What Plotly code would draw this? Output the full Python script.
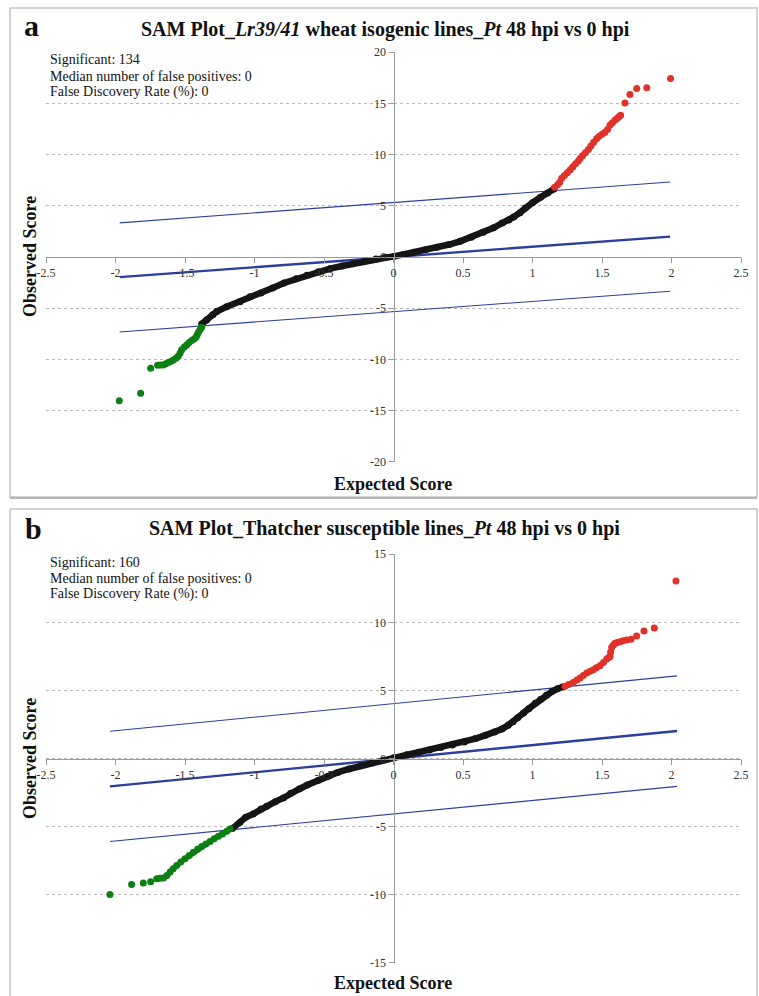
import plotly.graph_objects as go

W, H = 759, 996

# ---------------- Panel a data ----------------
a_black_x = [-1.38, -1.344, -1.30, -1.272, -1.20, -1.104, -1.032, -0.953, -0.87, -0.788, -0.70, -0.623, -0.54,
             -0.457, -0.37, -0.292, -0.21, -0.127, -0.06, 0.0, 0.07, 0.149, 0.23, 0.314, 0.40, 0.479, 0.56,
             0.645, 0.72, 0.782, 0.83, 0.865, 0.91, 0.948, 1.0, 1.058, 1.11, 1.154]
a_black_y = [-6.55, -6.15, -5.65, -5.33, -4.85, -4.36, -3.87, -3.52, -3.02, -2.54, -2.13, -1.79, -1.45,
             -1.14, -0.88, -0.65, -0.42, -0.20, -0.03, 0.06, 0.25, 0.46, 0.70, 0.94, 1.22, 1.53, 1.92,
             2.41, 2.85, 3.32, 3.62, 3.91, 4.33, 4.79, 5.30, 5.83, 6.25, 6.64]
a_red_x = [1.16, 1.18, 1.196, 1.21, 1.23, 1.25, 1.27, 1.29, 1.31, 1.33, 1.342, 1.36, 1.38, 1.402, 1.42, 1.44,
           1.462, 1.48, 1.50, 1.52, 1.54, 1.558, 1.575, 1.594, 1.61, 1.622, 1.634]
a_red_y = [6.80, 7.05, 7.30, 7.68, 7.95, 8.22, 8.49, 8.80, 9.10, 9.38, 9.63, 9.90, 10.18, 10.51, 10.85, 11.20,
           11.58, 11.80, 11.98, 12.15, 12.45, 12.88, 13.10, 13.37, 13.55, 13.70, 13.85]
a_red_out_x = [1.665, 1.701, 1.750, 1.822, 1.993]
a_red_out_y = [15.05, 15.87, 16.46, 16.52, 17.43]
a_green_x = [-1.38, -1.392, -1.404, -1.412, -1.421, -1.435, -1.452, -1.47, -1.488, -1.505, -1.524, -1.535,
             -1.548, -1.565, -1.584, -1.600, -1.620, -1.638, -1.656, -1.676, -1.697]
a_green_y = [-6.86, -7.10, -7.38, -7.60, -7.84, -8.00, -8.16, -8.36, -8.59, -8.80, -9.07, -9.38,
             -9.66, -9.88, -10.05, -10.18, -10.31, -10.42, -10.54, -10.55, -10.57]
a_green_out_x = [-1.747, -1.819, -1.973]
a_green_out_y = [-10.87, -13.30, -14.05]
a_line_x = [-1.97, 1.99]
a_upper_y = [3.33, 7.33]
a_center_y = [-1.97, 1.99]
a_lower_y = [-7.32, -3.34]

# ---------------- Panel b data ----------------
b_black_x = [-1.16, -1.104, -1.063, -1.009, -0.953, -0.912, -0.85, -0.793, -0.74, -0.678, -0.62, -0.54, -0.47,
             -0.402, -0.32, -0.237, -0.15, -0.072, 0.0, 0.094, 0.18, 0.259, 0.34, 0.424, 0.51, 0.59, 0.66,
             0.727, 0.78, 0.824, 0.86, 0.893, 0.935, 0.975, 1.02, 1.058, 1.10, 1.14, 1.18, 1.22]
b_black_y = [-5.15, -4.68, -4.32, -4.07, -3.71, -3.51, -3.17, -2.90, -2.55, -2.24, -1.95, -1.59, -1.30,
             -1.02, -0.77, -0.54, -0.32, -0.12, 0.05, 0.27, 0.46, 0.63, 0.80, 1.00, 1.22, 1.46, 1.70,
             1.95, 2.17, 2.44, 2.70, 3.00, 3.34, 3.68, 4.05, 4.34, 4.64, 4.92, 5.12, 5.27]
b_red_x = [1.234, 1.26, 1.294, 1.32, 1.342, 1.365, 1.390, 1.415, 1.438, 1.46, 1.486, 1.51, 1.534, 1.548,
           1.558, 1.562, 1.570, 1.582, 1.594, 1.61, 1.629, 1.65, 1.677, 1.709]
b_red_y = [5.30, 5.43, 5.59, 5.76, 5.91, 6.09, 6.28, 6.40, 6.52, 6.66, 6.81, 7.05, 7.30, 7.42,
           7.49, 7.80, 8.17, 8.33, 8.46, 8.52, 8.58, 8.64, 8.71, 8.76]
b_red_out_x = [1.749, 1.802, 1.876, 2.032]
b_red_out_y = [9.0, 9.36, 9.58, 13.04]
b_green_x = [-1.176, -1.20, -1.23, -1.26, -1.29, -1.32, -1.35, -1.38, -1.41, -1.44, -1.47, -1.50, -1.53,
             -1.56, -1.585, -1.607, -1.63, -1.655, -1.68, -1.703]
b_green_y = [-5.17, -5.35, -5.54, -5.71, -5.90, -6.10, -6.28, -6.47, -6.67, -6.88, -7.12, -7.37, -7.60,
             -7.86, -8.10, -8.34, -8.60, -8.78, -8.80, -8.83]
b_green_out_x = [-1.747, -1.800, -1.884, -2.040]
b_green_out_y = [-9.05, -9.15, -9.25, -9.98]
b_line_x = [-2.04, 2.04]
b_upper_y = [2.00, 6.07]
b_center_y = [-2.05, 2.02]
b_lower_y = [-6.10, -2.05]

x_ticks = [-2.5, -2, -1.5, -1, -0.5, 0, 0.5, 1, 1.5, 2, 2.5]
x_tick_text = ["-2.5", "-2", "-1.5", "-1", "-0.5", "0", "0.5", "1", "1.5", "2", "2.5"]
a_y_ticks = [-20, -15, -10, -5, 0, 5, 10, 15, 20]
b_y_ticks = [-15, -10, -5, 0, 5, 10, 15]

titles = ["SAM Plot_<i>Lr39/41</i> wheat isogenic lines_<i>Pt</i> 48 hpi vs 0 hpi",
          "SAM Plot_Thatcher susceptible lines_<i>Pt</i> 48 hpi vs 0 hpi"]
info_a = ["Significant: 134", "Median number of false positives: 0", "False Discovery Rate (%): 0"]
info_b = ["Significant: 160", "Median number of false positives: 0", "False Discovery Rate (%): 0"]

BLACK = "#151515"
RED = "#e0322a"
GREEN = "#0b7f12"
NAVY = "#2b3f9c"
SERIF = "Liberation Serif"

fig = go.Figure()


def add_panel(xa, ya, bx, by, rx, ry, rox, roy, gx, gy, gox, goy, lx, up, ce, lo):
    kw = dict(xaxis=xa, yaxis=ya, hoverinfo="skip", showlegend=False, cliponaxis=False)
    fig.add_trace(go.Scatter(x=lx, y=up, mode="lines", line=dict(color=NAVY, width=1.1), **kw))
    fig.add_trace(go.Scatter(x=lx, y=lo, mode="lines", line=dict(color=NAVY, width=1.1), **kw))
    fig.add_trace(go.Scatter(x=lx, y=ce, mode="lines", line=dict(color=NAVY, width=2.4), **kw))
    fig.add_trace(go.Scatter(x=bx, y=by, mode="lines+markers", line=dict(color=BLACK, width=6.5),
                             marker=dict(color=BLACK, size=7), **kw))
    fig.add_trace(go.Scatter(x=rx, y=ry, mode="lines+markers", line=dict(color=RED, width=5),
                             marker=dict(color=RED, size=7), **kw))
    fig.add_trace(go.Scatter(x=rox, y=roy, mode="markers", marker=dict(color=RED, size=7), **kw))
    fig.add_trace(go.Scatter(x=gx, y=gy, mode="lines+markers", line=dict(color=GREEN, width=5),
                             marker=dict(color=GREEN, size=7), **kw))
    fig.add_trace(go.Scatter(x=gox, y=goy, mode="markers", marker=dict(color=GREEN, size=7), **kw))


add_panel("x", "y", a_black_x, a_black_y, a_red_x, a_red_y, a_red_out_x, a_red_out_y,
          a_green_x, a_green_y, a_green_out_x, a_green_out_y, a_line_x, a_upper_y, a_center_y, a_lower_y)
add_panel("x2", "y2", b_black_x, b_black_y, b_red_x, b_red_y, b_red_out_x, b_red_out_y,
          b_green_x, b_green_y, b_green_out_x, b_green_out_y, b_line_x, b_upper_y, b_center_y, b_lower_y)


def fx(p):
    return p / W


def fy(p):
    return 1 - p / H


xdom = [fx(46), fx(741)]
a_ydom = [fy(462), fy(52)]
b_ydom = [fy(963), fy(554)]

tickfont = dict(family=SERIF, size=12, color="#333333")
axis_common = dict(showline=True, linecolor="#9a9a9a", linewidth=1, ticks="outside", ticklen=5,
                   tickcolor="#9a9a9a", tickfont=tickfont, zeroline=False, fixedrange=True,
                   automargin=False)


def xaxis_cfg(ydom):
    return dict(domain=xdom, range=[-2.5, 2.5], anchor="free", position=(ydom[0] + ydom[1]) / 2,
                tickvals=x_ticks, ticktext=x_tick_text, showgrid=False, **axis_common)


def yaxis_cfg(ydom, rng, ticks):
    return dict(domain=ydom, range=rng, anchor="free", position=(xdom[0] + xdom[1]) / 2,
                tickvals=ticks, ticktext=[str(t) for t in ticks], showgrid=True, gridcolor="#b8b8b8",
                griddash="dot", gridwidth=1, **axis_common)


fig.update_layout(
    width=W, height=H, autosize=False,
    margin=dict(l=0, r=0, t=0, b=0, pad=0, autoexpand=False),
    paper_bgcolor="white", plot_bgcolor="white", showlegend=False,
    xaxis=xaxis_cfg(a_ydom), yaxis=yaxis_cfg(a_ydom, [-20.02, 20.02], a_y_ticks),
    xaxis2=xaxis_cfg(b_ydom), yaxis2=yaxis_cfg(b_ydom, [-15.02, 15.02], b_y_ticks),
)

ann = []


def text(x, y, s, size, bold=False, xanchor="center", angle=0, color="#111111"):
    ann.append(dict(x=fx(x), y=fy(y), xref="paper", yref="paper", text=("<b>%s</b>" % s) if bold else s,
                    showarrow=False, xanchor=xanchor, yanchor="middle", textangle=angle,
                    font=dict(family=SERIF, size=size, color=color)))


# panel a
text(31, 26, "a", 30, bold=True)
text(385, 29, titles[0], 20, bold=True)
for i, s in enumerate(info_a):
    text(48, 60 + 16 * i, s, 14, xanchor="left")
text(30, 257, "Observed Score", 18, bold=True, angle=-90)
text(393, 484, "Expected Score", 18, bold=True)
# panel b
text(33, 528, "b", 30, bold=True)
text(384, 528, titles[1], 20, bold=True)
for i, s in enumerate(info_b):
    text(48, 562 + 16 * i, s, 14, xanchor="left")
text(30, 759, "Observed Score", 18, bold=True, angle=-90)
text(393, 983, "Expected Score", 18, bold=True)
fig.update_layout(annotations=ann)

shapes = [
    dict(type="rect", xref="paper", yref="paper", x0=fx(10), x1=fx(757), y0=fy(497), y1=fy(8),
         line=dict(color="#c4c4c4", width=1.5)),
    dict(type="line", xref="paper", yref="paper", x0=fx(10), x1=fx(757), y0=fy(498), y1=fy(498),
         line=dict(color="#b5b5b5", width=2)),
    dict(type="rect", xref="paper", yref="paper", x0=fx(10), x1=fx(757), y0=fy(1005), y1=fy(509),
         line=dict(color="#c4c4c4", width=1.5)),
]
fig.update_layout(shapes=shapes)

fig.write_html("out.html", config={"displayModeBar": False, "staticPlot": True},
               post_script="document.documentElement.style.margin='0';document.body.style.margin='0';"
                           "document.body.style.padding='0';")
